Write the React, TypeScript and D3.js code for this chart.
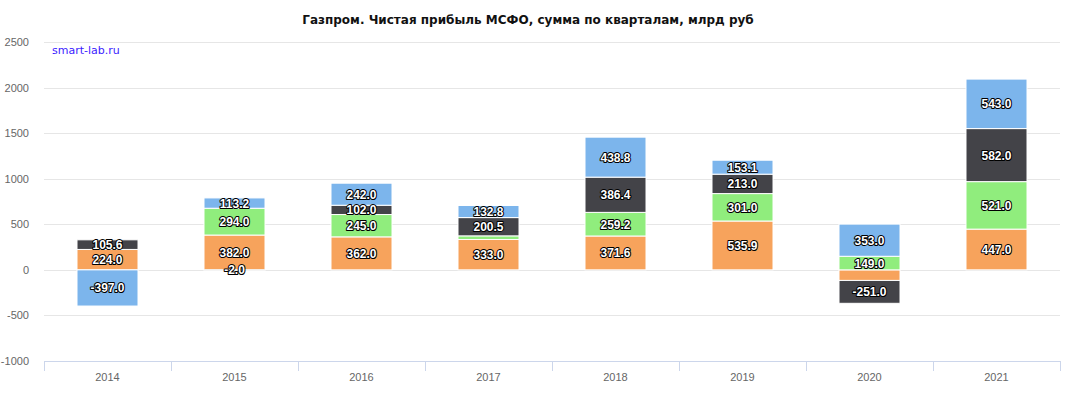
import React, { useEffect, useRef } from 'react';
import * as d3 from 'd3';

const years = ['2014', '2015', '2016', '2017', '2018', '2019', '2020', '2021'];
// quarters, stacked from zero outward: Q1 orange, Q2 green, Q3 dark, Q4 blue
const q1 = [224.0, 382.0, 362.0, 333.0, 371.6, 535.9, -116.0, 447.0];
const q2 = [0, 294.0, 245.0, 40.0, 259.2, 301.0, 149.0, 521.0];
const q3 = [105.6, -2.0, 102.0, 200.5, 386.4, 213.0, -251.0, 582.0];
const q4 = [-397.0, 113.2, 242.0, 132.8, 438.8, 153.1, 353.0, 543.0];
const yTicks = [-1000, -500, 0, 500, 1000, 1500, 2000, 2500];

const keys = ['q1', 'q2', 'q3', 'q4'];
const colors: any = { q1: '#f7a35c', q2: '#90ed7d', q3: '#434348', q4: '#7cb5ec' };

const dims = { width: 1079, height: 397, left: 44, right: 1060, top: 42, bottom: 361 };
const barWidth = 61;

const App = () => {
    const container = useRef(null);

    useEffect(() => {
        if (!container.current) return;
        const root = d3.select(container.current);
        root.selectAll('*').remove();

        const svg = root.append('svg')
            .attr('width', dims.width)
            .attr('height', dims.height)
            .style('display', 'block')
            .style('font-family', '"Liberation Sans", Arial, sans-serif');

        const rows = years.map((y, i) => ({ year: y, q1: q1[i], q2: q2[i], q3: q3[i], q4: q4[i] }));

        const x = d3.scaleBand().domain(years).range([dims.left, dims.right]);
        const y = d3.scaleLinear().domain([-1000, 2500]).range([dims.bottom, dims.top]);

        // grid
        svg.append('g').selectAll('line')
            .data(yTicks.filter(t => t !== -1000))
            .join('line')
            .attr('x1', dims.left).attr('x2', dims.right)
            .attr('y1', d => Math.round(y(d)) + 0.5).attr('y2', d => Math.round(y(d)) + 0.5)
            .attr('stroke', '#e6e6e6');

        // y labels
        svg.append('g').selectAll('text')
            .data(yTicks)
            .join('text')
            .attr('x', 29)
            .attr('y', d => y(d) + 4)
            .attr('text-anchor', 'end')
            .attr('fill', '#666666')
            .style('font-size', '11px')
            .text(d => d);

        // stacked bars
        const series = d3.stack<any>().keys(keys).offset(d3.stackOffsetDiverging)(rows);
        const bars = svg.append('g');
        series.forEach(s => {
            bars.selectAll(null)
                .data(s.filter(d => d[0] !== d[1]))
                .join('rect')
                .attr('x', d => (x(d.data.year) as number) + (x.bandwidth() - barWidth) / 2)
                .attr('y', d => y(Math.max(d[0], d[1])))
                .attr('width', barWidth)
                .attr('height', d => Math.abs(y(d[0]) - y(d[1])))
                .attr('fill', colors[s.key])
                .attr('stroke', '#ffffff')
                .attr('stroke-width', 1);
        });

        // data labels, hide overlapping ones (bigger values win)
        const labels: any[] = [];
        series.forEach(s => {
            s.forEach(d => {
                const v = d.data[s.key];
                if (!v) return;
                labels.push({ year: d.data.year, v, cy: (y(d[0]) + y(d[1])) / 2 });
            });
        });
        labels.sort((a, b) => Math.abs(b.v) - Math.abs(a.v));
        const placed: any[] = [];
        labels.forEach(l => {
            if (placed.some(p => p.year === l.year && Math.abs(p.cy - l.cy) < 13.5)) return;
            placed.push(l);
        });
        svg.append('g').selectAll('text')
            .data(placed)
            .join('text')
            .attr('x', d => (x(d.year) as number) + x.bandwidth() / 2)
            .attr('y', d => d.cy + 4.5)
            .attr('text-anchor', 'middle')
            .attr('fill', '#ffffff')
            .attr('stroke', '#000000')
            .attr('stroke-width', 2)
            .attr('stroke-linejoin', 'round')
            .style('paint-order', 'stroke')
            .style('font-size', '12px')
            .style('font-weight', 'bold')
            .text(d => d.v.toFixed(1));

        // x axis
        const axis = svg.append('g');
        axis.append('line')
            .attr('x1', dims.left).attr('x2', dims.right)
            .attr('y1', dims.bottom + 0.5).attr('y2', dims.bottom + 0.5)
            .attr('stroke', '#ccd6eb');
        axis.selectAll('line.tick')
            .data([...years.map(yr => x(yr) as number), dims.right])
            .join('line')
            .attr('class', 'tick')
            .attr('x1', d => Math.round(d) + 0.5).attr('x2', d => Math.round(d) + 0.5)
            .attr('y1', dims.bottom).attr('y2', dims.bottom + 10)
            .attr('stroke', '#ccd6eb');
        axis.selectAll('text')
            .data(years)
            .join('text')
            .attr('x', d => (x(d) as number) + x.bandwidth() / 2)
            .attr('y', dims.bottom + 20)
            .attr('text-anchor', 'middle')
            .attr('fill', '#666666')
            .style('font-size', '11px')
            .text(d => d);

        // title and credit
        svg.append('text')
            .attr('x', 528)
            .attr('y', 24)
            .attr('text-anchor', 'middle')
            .attr('fill', '#111111')
            .style('font-family', '"DejaVu Sans", sans-serif')
            .style('font-size', '12px')
            .style('font-weight', 'bold')
            .text('Газпром. Чистая прибыль МСФО, сумма по кварталам, млрд руб');

        svg.append('text')
            .attr('x', 52)
            .attr('y', 54)
            .attr('fill', '#3a1cff')
            .style('font-family', '"DejaVu Sans", sans-serif')
            .style('font-size', '11px')
            .text('smart-lab.ru');
    }, []);

    return (<div ref={container} style={{ position: 'absolute', left: 0, top: 0 }} />);
};

export default App;
